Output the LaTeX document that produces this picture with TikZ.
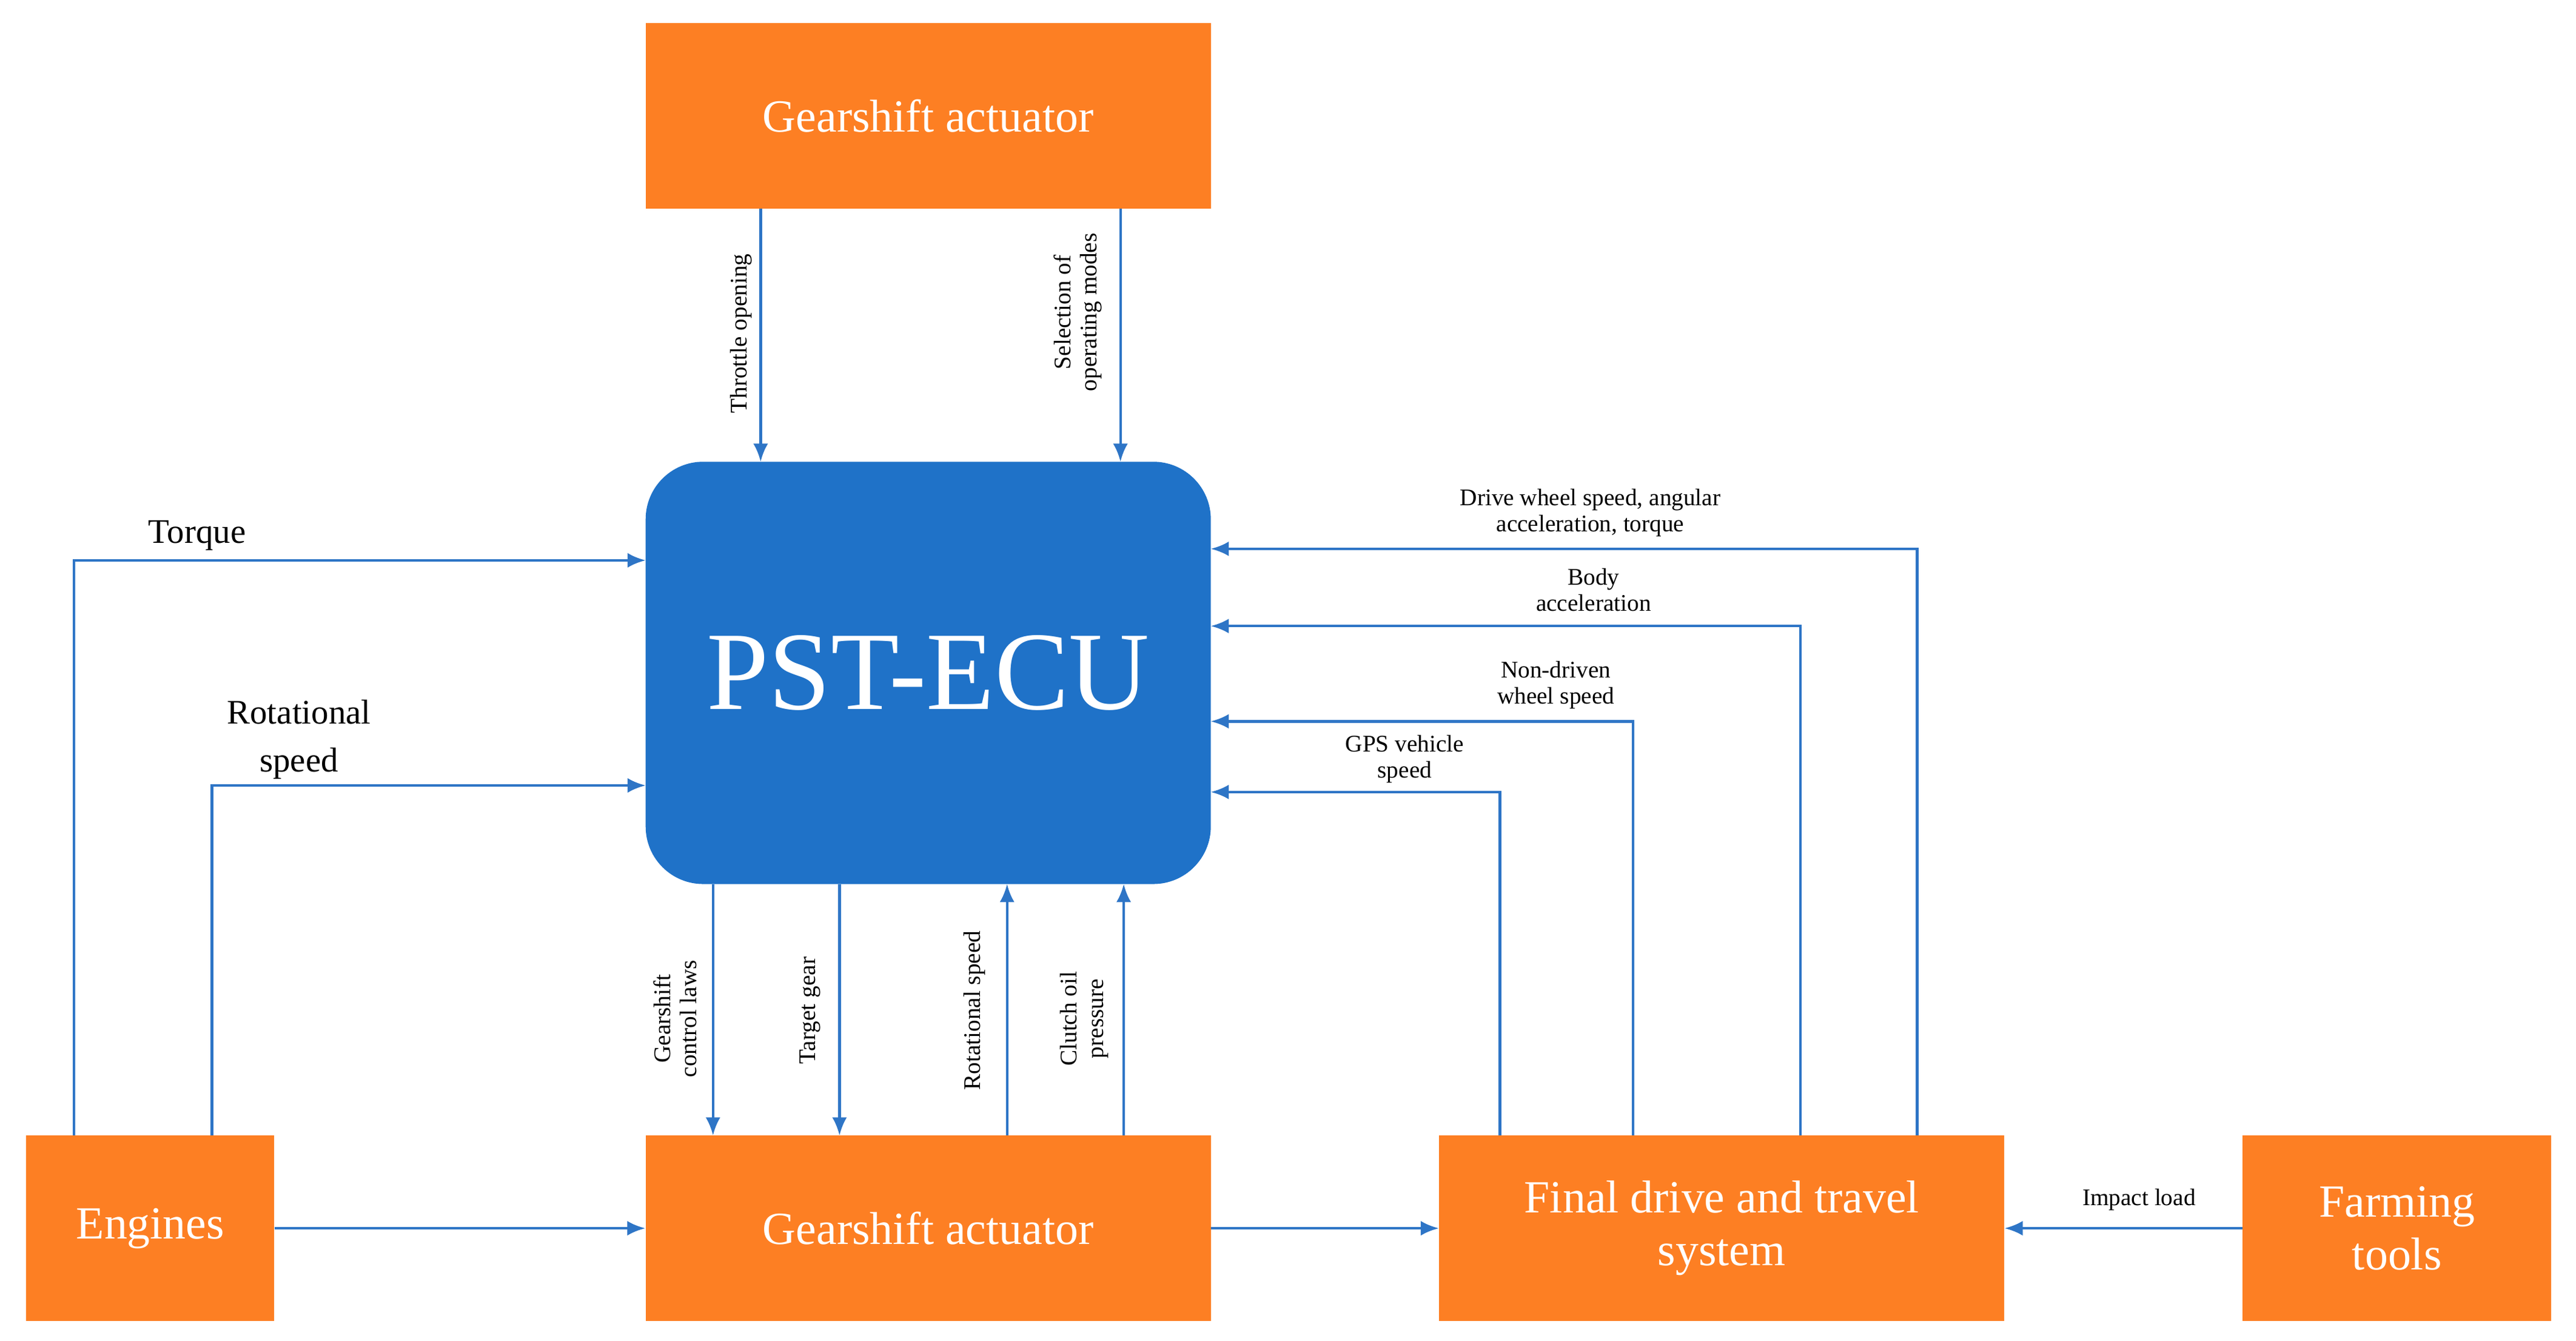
\documentclass[tikz,border=0pt]{standalone}
\usepackage{fontspec}
\setmainfont{Liberation Serif}
\usetikzlibrary{arrows.meta}
\definecolor{org}{HTML}{FD7F23}
\definecolor{ecu}{HTML}{1F72C8}
\definecolor{ln}{HTML}{2E75C6}
\begin{document}
\begin{tikzpicture}[x=1pt,y=-1pt,
 box/.style={fill=org,draw=none,text=white,font=\fontsize{28}{32}\selectfont,align=center,inner sep=0},
 ar/.style={draw=ln,line width=1.6pt,-{Latex[length=11pt,width=9pt]}},
 sl/.style={font=\fontsize{14.5}{16}\selectfont,align=center,inner sep=1pt},
 ml/.style={font=\fontsize{21}{23}\selectfont,align=center}]
\useasboundingbox (0,0) rectangle (1568,816);
\node[box,minimum width=344pt,minimum height=113pt] (top) at (565,70.5) {Gearshift actuator};
\node[fill=ecu,rounded corners=35pt,minimum width=344pt,minimum height=257pt,text=white,font=\fontsize{68}{70}\selectfont] (ecu) at (565,409.5) {PST-ECU};
\node[box,minimum width=151pt,minimum height=113pt] (eng) at (91.5,747.5) {Engines};
\node[box,minimum width=344pt,minimum height=113pt] (gs) at (565,747.5) {Gearshift actuator};
\node[box,minimum width=344pt,minimum height=113pt] (fd) at (1048,747.5) {Final drive and travel\\system};
\node[box,minimum width=188pt,minimum height=113pt] (ft) at (1459,747.5) {Farming\\tools};
% top
\draw[ar] (463,127) -- (463,281);
\node[sl,rotate=90] (l1) at (451,203) {Throttle opening};
\draw[ar] (682,127) -- (682,281);
\node[sl,rotate=90] (l2) at (656,190) {Selection of\\operating modes};
% left
\coordinate (t1) at (45,341);
\draw[ar] (45,691) -- (t1) -- (393,341);
\node[ml] (lt) at (120,326) {Torque};
\draw[ar] (129,691) -- (129,478) -- (393,478);
\node[ml,font=\fontsize{21}{29}\selectfont] (lr) at (182,450) {Rotational\\speed};
% bottom verticals
\draw[ar] (434,538) -- (434,691);
\node[sl,rotate=90] at (411,620) {Gearshift\\control laws};
\draw[ar] (511,538) -- (511,691);
\node[sl,rotate=90] at (493,615) {Target gear};
\draw[ar] (613,691) -- (613,538);
\node[sl,rotate=90] at (593,615) {Rotational speed};
\draw[ar] (684,691) -- (684,538);
\node[sl,rotate=90] at (660,620) {Clutch oil\\pressure};
% horizontals
\draw[ar] (eng.east) -- (gs.west);
\draw[ar] (gs.east) -- (fd.west);
\draw[ar] (ft.west) -- (fd.east);
\node[sl] at (1302,730) {Impact load};
% right feedback
\draw[ar] (1167,691) -- (1167,334) -- (737,334);
\node[sl] at (968,312) {Drive wheel speed, angular\\acceleration, torque};
\draw[ar] (1096,691) -- (1096,381) -- (737,381);
\node[sl] at (970,359) {Body\\acceleration};
\draw[ar] (994,691) -- (994,439) -- (737,439);
\node[sl] at (947,417) {Non-driven\\wheel speed};
\draw[ar] (913,691) -- (913,482) -- (737,482);
\node[sl] at (855,462) {GPS vehicle\\speed};
\end{tikzpicture}
\end{document}
